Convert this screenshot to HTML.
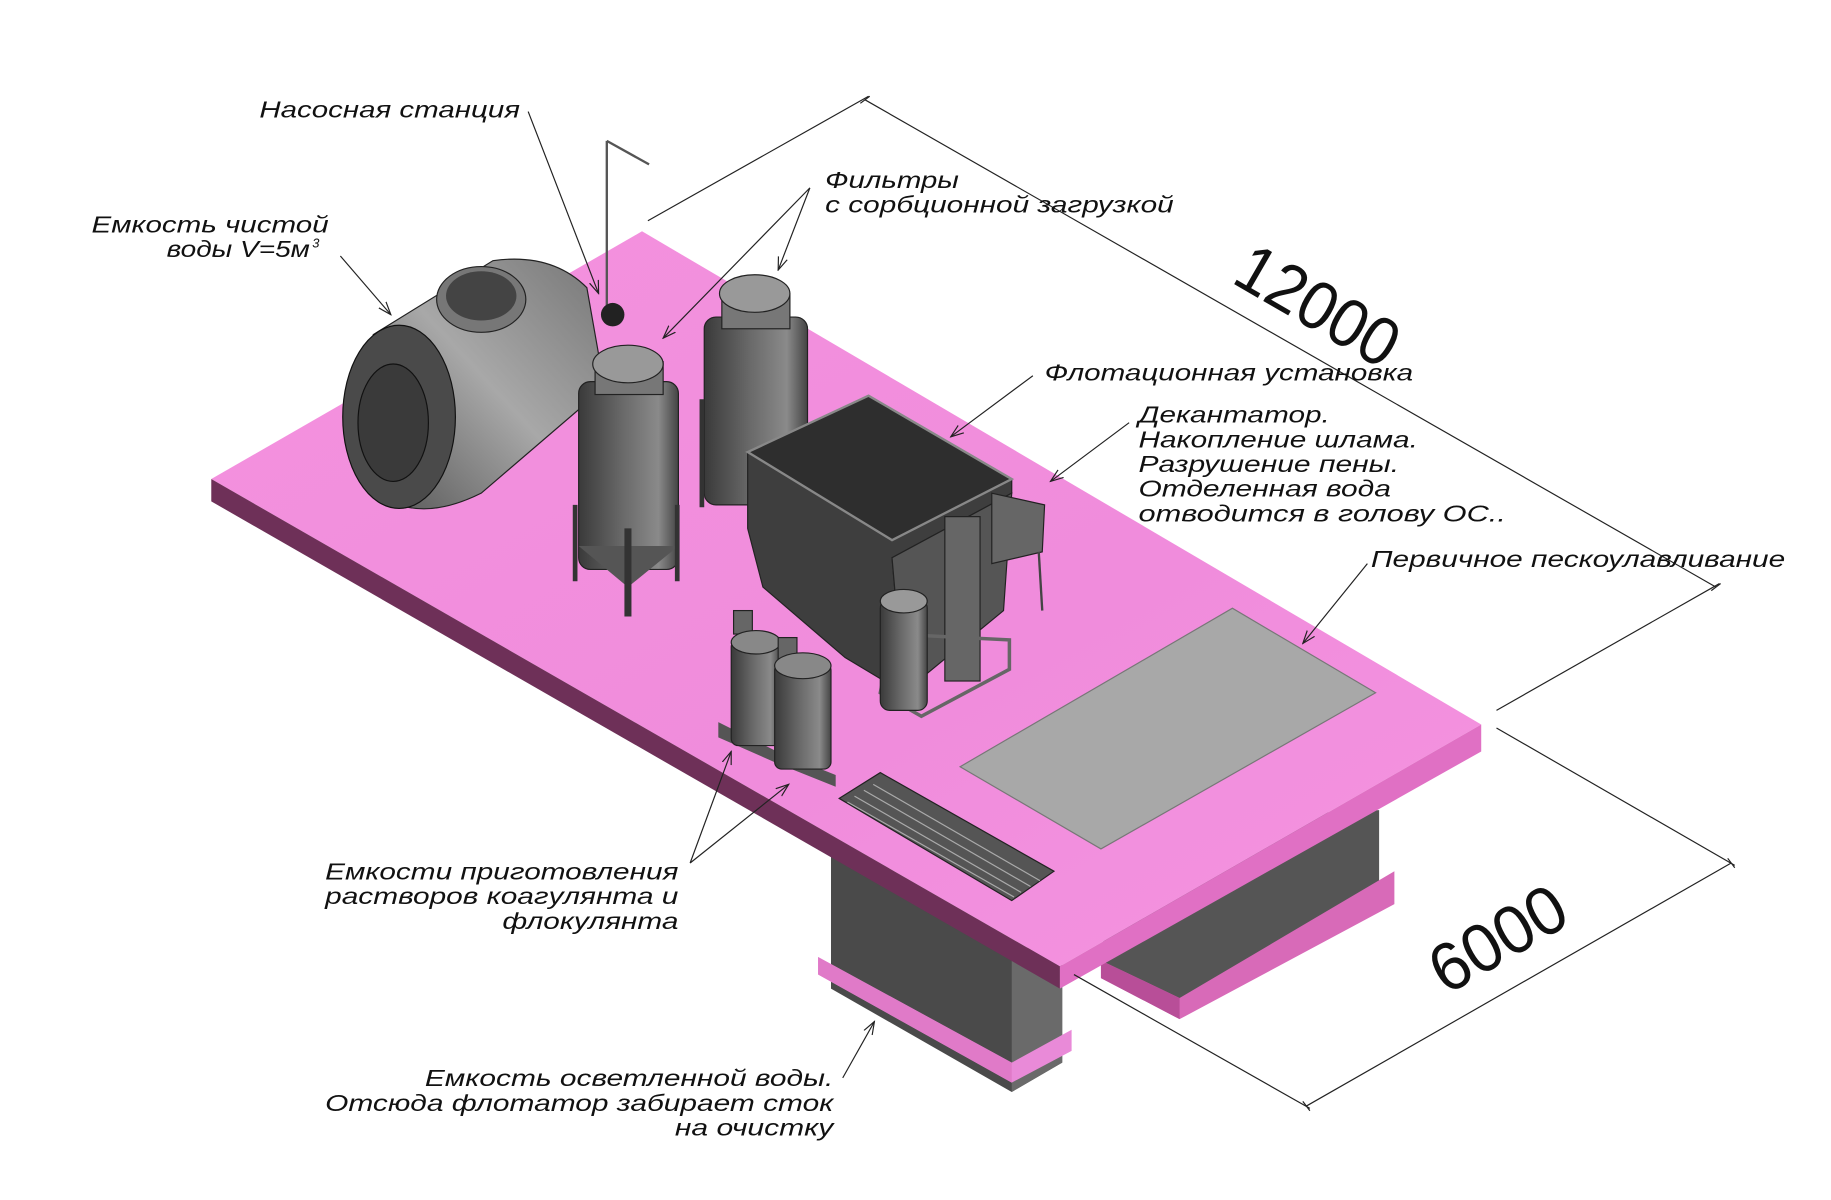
<!DOCTYPE html>
<html><head><meta charset="utf-8"><style>
html,body{margin:0;padding:0;background:#fff;}
svg{display:block;}
text.l{font-family:"Liberation Sans",sans-serif;font-style:italic;font-size:20px;fill:#111;}
text.d{font-family:"Liberation Sans",sans-serif;font-size:58px;fill:#111;}
</style></head><body>
<svg width="1831" height="1200" viewBox="0 0 1560 1022" preserveAspectRatio="none" xmlns="http://www.w3.org/2000/svg">
<defs>
<linearGradient id="cyl" x1="0" x2="1" y1="0" y2="0">
<stop offset="0" stop-color="#3a3a3a"/><stop offset="0.45" stop-color="#6a6a6a"/><stop offset="0.8" stop-color="#8a8a8a"/><stop offset="1" stop-color="#444"/></linearGradient>
<linearGradient id="ht" x1="0" x2="1" y1="1" y2="0">
<stop offset="0" stop-color="#555"/><stop offset="0.5" stop-color="#a8a8a8"/><stop offset="1" stop-color="#777"/></linearGradient>
<linearGradient id="pk" x1="0" x2="1" y1="0" y2="1">
<stop offset="0" stop-color="#f492de"/><stop offset="0.6" stop-color="#f08cdc"/><stop offset="1" stop-color="#f594e0"/></linearGradient>
<marker id="ar" viewBox="0 0 12 10" refX="11" refY="5" markerWidth="12" markerHeight="10" markerUnits="userSpaceOnUse" orient="auto">
<path d="M0,1 L11,5 L0,9" fill="none" stroke="#222" stroke-width="1"/></marker>
</defs>
<polygon points="708,728 862,815 905,790 905,905 862,930 708,842" fill="#4a4a4a"/>
<polygon points="862,815 905,790 905,905 862,930" fill="#6a6a6a"/>
<polygon points="697,815 862,905 913,877 913,895 862,922 697,830" fill="#e98ad8"/>
<polygon points="697,830 862,922 862,905 697,815" fill="#e07ac8"/>
<polygon points="940,700 1175,690 1175,755 1000,860 940,830" fill="#555"/>
<polygon points="938,818 1005,850 1188,742 1188,770 1005,868 938,833" fill="#d86ab8"/>
<polygon points="938,818 1005,850 1005,868 938,833" fill="#b84e98"/>
<polygon points="180,408 547,197 1262,617 903,823" fill="url(#pk)"/>
<polygon points="180,408 903,823 903,842 180,427" fill="#6e3058"/>
<polygon points="903,823 1262,617 1262,640 903,842" fill="#e070c4"/>
<polygon points="818,653 1050,518 1172,590 938,723" fill="#a8a8a8" stroke="#777"/>
<polygon points="715,680 750,658 898,742 862,767" fill="#555" stroke="#222"/>
<g stroke="#aaa" stroke-width="1">
<line x1="728" y1="678" x2="870" y2="760"/><line x1="736" y1="673" x2="878" y2="755"/><line x1="744" y1="668" x2="886" y2="750"/><line x1="722" y1="683" x2="864" y2="764"/>
</g>
<path d="M318,285 L420,222 Q470,215 500,245 L515,330 L410,420 Q370,440 340,430 Z" fill="url(#ht)" stroke="#222"/>
<ellipse cx="340" cy="355" rx="48" ry="78" fill="#4a4a4a" stroke="#111"/>
<ellipse cx="335" cy="360" rx="30" ry="50" fill="#3a3a3a" stroke="#111"/>
<ellipse cx="410" cy="255" rx="38" ry="28" fill="#777" stroke="#222"/>
<ellipse cx="410" cy="252" rx="30" ry="21" fill="#444"/>
<line x1="517" y1="120" x2="517" y2="262" stroke="#555" stroke-width="2"/>
<line x1="517" y1="120" x2="553" y2="140" stroke="#555" stroke-width="2"/>
<circle cx="522" cy="268" r="10" fill="#222"/>
<rect x="600" y="270" width="88" height="160" rx="10" fill="url(#cyl)" stroke="#222"/>
<rect x="615" y="250" width="58" height="30" fill="#777" stroke="#222"/>
<ellipse cx="643" cy="250" rx="30" ry="16" fill="#999" stroke="#222"/>
<line x1="598" y1="340" x2="598" y2="432" stroke="#333" stroke-width="4"/>
<rect x="493" y="325" width="85" height="160" rx="10" fill="url(#cyl)" stroke="#222"/>
<path d="M493,465 L535,500 L578,465 Z" fill="#555"/>
<rect x="507" y="308" width="58" height="28" fill="#777" stroke="#222"/>
<ellipse cx="535" cy="310" rx="30" ry="16" fill="#999" stroke="#222"/>
<line x1="490" y1="430" x2="490" y2="495" stroke="#333" stroke-width="4"/>
<line x1="577" y1="430" x2="577" y2="495" stroke="#333" stroke-width="4"/>
<line x1="535" y1="450" x2="535" y2="525" stroke="#333" stroke-width="6"/>
<polygon points="637,385 740,337 862,408 862,420 760,475 770,590 720,560 650,500 637,450" fill="#3e3e3e" stroke="#222"/>
<polygon points="760,475 862,420 855,520 770,590" fill="#555" stroke="#222"/>
<polygon points="637,385 740,337 862,408 760,460" fill="#2e2e2e" stroke="#888" stroke-width="2"/>
<polygon points="845,420 890,430 888,470 845,480" fill="#666" stroke="#222"/>
<line x1="885" y1="470" x2="888" y2="520" stroke="#444" stroke-width="2"/>
<rect x="805" y="440" width="30" height="140" fill="#666" stroke="#222"/>
<polygon points="760,540 860,545 860,570 785,610 750,590" fill="none" stroke="#666" stroke-width="3"/>
<rect x="750" y="510" width="40" height="95" rx="8" fill="url(#cyl)" stroke="#222"/>
<ellipse cx="770" cy="512" rx="20" ry="10" fill="#999" stroke="#222"/>
<polygon points="612,615 662,640 712,660 712,670 662,650 612,628" fill="#555"/>
<rect x="623" y="545" width="42" height="90" rx="6" fill="url(#cyl)" stroke="#222"/>
<rect x="625" y="520" width="16" height="20" fill="#666" stroke="#222"/>
<ellipse cx="644" cy="547" rx="21" ry="10" fill="#888" stroke="#222"/>
<rect x="660" y="565" width="48" height="90" rx="6" fill="url(#cyl)" stroke="#222"/>
<rect x="663" y="543" width="16" height="20" fill="#666" stroke="#222"/>
<ellipse cx="684" cy="567" rx="24" ry="11" fill="#888" stroke="#222"/>
<g stroke="#222" stroke-width="1" fill="none">
<line x1="552" y1="188" x2="740" y2="82"/>
<line x1="737" y1="85" x2="1462" y2="500"/>
<line x1="1275" y1="605" x2="1465" y2="497"/>
<line x1="1275" y1="620" x2="1478" y2="737"/>
<line x1="1475" y1="735" x2="1113" y2="942"/>
<line x1="915" y1="830" x2="1116" y2="944"/>
<line x1="733" y1="88" x2="741" y2="82"/><line x1="1458" y1="503" x2="1466" y2="497"/>
<line x1="1472" y1="731" x2="1478" y2="739"/><line x1="1110" y1="938" x2="1116" y2="946"/>
</g>
<g stroke="#222" stroke-width="1" fill="none" marker-end="url(#ar)">
<line x1="450" y1="95" x2="510" y2="250"/>
<line x1="290" y1="218" x2="333" y2="268"/>
<line x1="690" y1="160" x2="565" y2="288"/>
<line x1="690" y1="160" x2="663" y2="230"/>
<line x1="880" y1="320" x2="810" y2="372"/>
<line x1="962" y1="360" x2="895" y2="410"/>
<line x1="1165" y1="480" x2="1110" y2="548"/>
<line x1="588" y1="735" x2="623" y2="640"/>
<line x1="588" y1="735" x2="672" y2="668"/>
<line x1="718" y1="918" x2="745" y2="870"/>
</g>
<g>
<text class="l" x="221" y="100" textLength="222" lengthAdjust="spacingAndGlyphs">Насосная станция</text>
<text class="l" x="78" y="198" textLength="202" lengthAdjust="spacingAndGlyphs">Емкость чистой</text>
<text class="l" x="142" y="219" textLength="122" lengthAdjust="spacingAndGlyphs">воды V=5м</text>
<text class="l" x="266" y="211" style="font-size:11px">3</text>
<text class="l" x="703" y="160" textLength="114" lengthAdjust="spacingAndGlyphs">Фильтры</text>
<text class="l" x="703" y="181" textLength="297" lengthAdjust="spacingAndGlyphs">с сорбционной загрузкой</text>
<text class="l" x="890" y="324" textLength="314" lengthAdjust="spacingAndGlyphs">Флотационная установка</text>
<text class="l" x="970" y="360" textLength="163" lengthAdjust="spacingAndGlyphs">Декантатор.</text>
<text class="l" x="970" y="381" textLength="238" lengthAdjust="spacingAndGlyphs">Накопление шлама.</text>
<text class="l" x="970" y="402" textLength="222" lengthAdjust="spacingAndGlyphs">Разрушение пены.</text>
<text class="l" x="970" y="423" textLength="215" lengthAdjust="spacingAndGlyphs">Отделенная вода</text>
<text class="l" x="970" y="444" textLength="313" lengthAdjust="spacingAndGlyphs">отводится в голову ОС..</text>
<text class="l" x="1168" y="483" textLength="353" lengthAdjust="spacingAndGlyphs">Первичное пескоулавливание</text>
<text class="l" x="277" y="749" textLength="301" lengthAdjust="spacingAndGlyphs">Емкости приготовления</text>
<text class="l" x="277" y="770" textLength="301" lengthAdjust="spacingAndGlyphs">растворов коагулянта и</text>
<text class="l" x="428" y="791" textLength="150" lengthAdjust="spacingAndGlyphs">флокулянта</text>
<text class="l" x="362" y="925" textLength="348" lengthAdjust="spacingAndGlyphs">Емкость осветленной воды.</text>
<text class="l" x="277" y="946" textLength="433" lengthAdjust="spacingAndGlyphs">Отсюда флотатор забирает сток</text>
<text class="l" x="575" y="967" textLength="135" lengthAdjust="spacingAndGlyphs">на очистку</text>
<text class="d" x="0" y="0" transform="translate(1048,240) rotate(30)" textLength="150" lengthAdjust="spacingAndGlyphs">12000</text>
<text class="d" x="0" y="0" transform="translate(1232,848) rotate(-30)" textLength="125" lengthAdjust="spacingAndGlyphs">6000</text>
</g>
</svg>
</body></html>
